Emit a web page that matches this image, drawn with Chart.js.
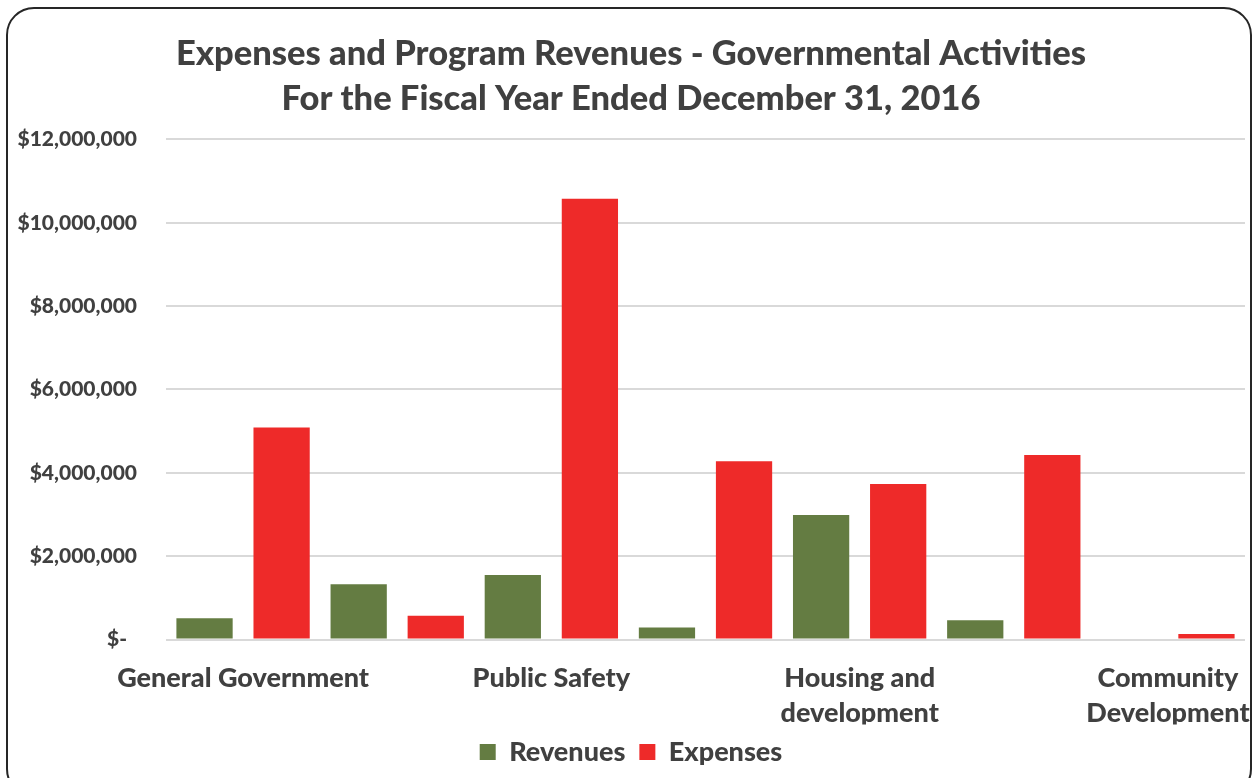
<!DOCTYPE html>
<html>
<head>
<meta charset="utf-8">
<script src="https://cdn.jsdelivr.net/npm/chart.js@4.4.1/dist/chart.umd.min.js"></script>
<style>
    body { margin: 0; background: #fff; overflow: hidden; }
    #wrap { position: relative; width: 1255px; height: 778px; }
    #frame {
        position: absolute; left: 6px; top: 7px; width: 1246px; height: 790px;
        border: 2px solid #262626; border-radius: 28px; box-sizing: border-box;
    }
    canvas { position: absolute; left: 0; top: 0; }
</style>
</head>
<body>
<div id="wrap">
    <div id="frame"></div>
    <canvas id="govChart" width="1255" height="778"></canvas>
</div>
<script>
// kategori (yang ganjil tidak ditampilkan di sumbu, seperti di Excel)
const categories = ['General Government', 'Highways and Streets', 'Public Safety', 'Health and Welfare',
    'Housing and development', 'Culture and Recreation', 'Community Development'];
const tickLabels = [['General Government'], '', ['Public Safety'], '', ['Housing and', 'development'], '', ['Community', 'Development']];

const revenues = [510000, 1325000, 1550000, 290000, 2990000, 460000, 0];
const expenses = [5090000, 570000, 10580000, 4280000, 3730000, 4430000, 130000];

const yTicks = [0, 2000000, 4000000, 6000000, 8000000, 10000000, 12000000];

const textColor = '#404040';
const fontName = 'Lato';

const ctx = document.getElementById('govChart').getContext('2d');

new Chart(ctx, {
    type: 'bar',
    data: {
        labels: categories,
        datasets: [
            { label: 'Revenues', data: revenues, backgroundColor: '#647c42' },
            { label: 'Expenses', data: expenses, backgroundColor: '#ee2a29' }
        ]
    },
    options: {
        responsive: false,
        animation: false,
        layout: { padding: { left: 17, right: 10, top: 0, bottom: 2.5 } },
        datasets: { bar: { categoryPercentage: 1.0, barPercentage: 0.73 } },
        scales: {
            x: {
                afterFit: (scale) => {
                    scale.height = 85;
                    scale.paddingLeft = 0;
                    scale.paddingRight = 0;
                },
                grid: { display: false, drawTicks: false },
                border: { display: false },
                ticks: {
                    autoSkip: false,
                    maxRotation: 0,
                    padding: 21,
                    color: textColor,
                    font: { family: fontName, size: 27, weight: '900', lineHeight: 1.3 },
                    callback: (value, index) => tickLabels[index]
                }
            },
            y: {
                min: 0,
                max: 12000000,
                afterFit: (scale) => { scale.width = 149; },
                afterBuildTicks: (scale) => { scale.ticks = yTicks.map(v => ({ value: v })); },
                grid: { color: '#d9d9d9', lineWidth: 2, drawTicks: false },
                border: { display: false },
                ticks: {
                    padding: 29,
                    color: textColor,
                    font: { family: fontName, size: 21, weight: '900' },
                    callback: (v) => v === 0 ? '$-  ' : '$' + v.toLocaleString('en-US')
                }
            }
        },
        plugins: {
            title: {
                display: true,
                text: ['Expenses and Program Revenues - Governmental Activities', 'For the Fiscal Year Ended December 31, 2016'],
                color: textColor,
                font: { family: fontName, size: 34.5, weight: '900', lineHeight: 1.304 },
                padding: { top: 31, bottom: 18.5 }
            },
            legend: {
                position: 'bottom',
                labels: {
                    color: textColor,
                    boxWidth: 16,
                    boxHeight: 16,
                    padding: 14,
                    font: { family: fontName, size: 27, weight: '900' }
                }
            },
            tooltip: { enabled: false }
        }
    }
});
</script>
</body>
</html>
